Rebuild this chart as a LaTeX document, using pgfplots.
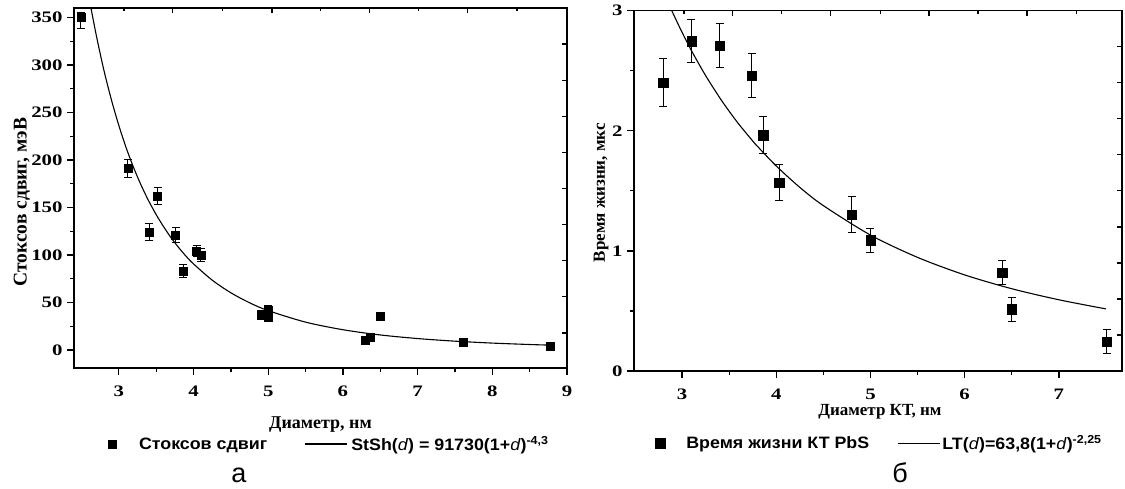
\documentclass[border=0pt]{standalone}
\usepackage{fontspec}
\setmainfont{Liberation Serif}
\setsansfont{Liberation Sans}
\newfontfamily\tickfont{Liberation Serif}[FakeStretch=1.3]
\newfontfamily\legfont{Liberation Sans}[FakeStretch=1.08]
\usepackage{pgfplots}
\pgfplotsset{compat=1.18}

\pgfplotsset{
  panel/.style={
    scale only axis, anchor=north west,
    tick align=outside, xtick pos=left, ytick pos=left,
    major tick length=7pt, minor tick length=4pt,
    minor x tick num=1, minor y tick num=1,
    axis line style={line width=1.5pt},
    every tick/.style={black, line width=1.3pt},
    /pgf/number format/assume math mode=true,
    tick label style={font=\tickfont\bfseries\fontsize{16}{16}\selectfont},
    xticklabel style={yshift=-7pt},
    yticklabel style={xshift=-1pt},
    clip mode=individual,
    legend style={draw=none, fill=none, inner sep=0pt, outer sep=0pt,
      anchor=west, legend columns=2, nodes={inner sep=0pt},
      font=\legfont\bfseries\fontsize{16.5}{16.5}\selectfont},
  },
  mirror/.style={
    scale only axis, anchor=north west,
    axis line style={draw=none},
    tick align=inside, xtick pos=right, ytick pos=right,
    major tick length=5.5pt, minor tick length=3pt,
    every tick/.style={black, line width=1.3pt},
    xticklabels={}, yticklabels={},
  },
  pts/.style={only marks, mark=square*, black,
    mark options={draw=black, fill=black},
    error bars/y dir=both, error bars/y explicit,
    error bars/error bar style={line width=1pt, black},
    error bars/error mark options={rotate=90, mark size=4pt, line width=1pt, black}},
  fit/.style={black, line width=1.1pt, smooth,
    legend image code/.code={\draw[black, line width=1.1pt] (0pt,0pt) -- (42pt,0pt);}},
}

\begin{document}
\begin{tikzpicture}[x=1pt,y=1pt]
\useasboundingbox (0,0) rectangle (1125,-489);

% ---------- panel a ----------
\begin{axis}[panel, at={(74pt,-8pt)}, width=493pt, height=360pt,
  xmin=2.4, xmax=9, ymin=-19, ymax=360,
  xtick={3,4,5,6,7,8,9}, ytick={0,50,100,150,200,250,300,350},
  xlabel={\bfseries\fontsize{18}{18}\selectfont Диаметр, нм},
  ylabel={\bfseries\fontsize{19.5}{19.5}\selectfont Стоксов сдвиг, мэВ},
  every axis x label/.style={at={(axis description cs:0.5,-0.158)}, anchor=center},
  every axis y label/.style={at={(axis description cs:-0.1055,0.461)}, anchor=center, rotate=90},
  legend style={at={(axis description cs:0.0700,-0.2111)}},
  /tikz/column 1/.style={column sep=22.5pt},
  /tikz/column 2/.style={column sep=37pt},
  /tikz/column 3/.style={column sep=4pt},
]
\addplot[mark size=4pt, pts] table[x=x, y=y, y error plus=ep, y error minus=em] {
x y ep em
2.49 350 5 12
3.12 191 9.5 9.5
3.41 124 9 9
3.52 162 9 9
3.76 121 8 8
3.86 83 7 7
4.04 104 6 6
4.10 100 7 7
4.91 37 5 5
5.00 42 5 5
5.00 35 5 5
6.30 10 2 2
6.37 13 2 2
6.50 36 2 2
7.61 8 1 1
8.77 4 1 1
};
\addlegendentry{Стоксов сдвиг}
\addplot[fit] coordinates {
(2.62,363) (2.7,330.6) (2.8,294.6) (2.9,263.6) (3.0,236.4) (3.1,212.5)
(3.2,191.6) (3.3,173.2) (3.4,156.9) (3.5,142.5) (3.6,129.7) (3.7,118.1)
(3.8,107.9) (3.9,98.7) (4.0,90.6) (4.25,73.5) (4.5,60.2) (4.75,49.7)
(5.0,41.4) (5.5,29.3) (6.0,21.3) (6.5,15.8) (7.0,12.0) (7.5,9.25)
(8.0,7.23) (8.5,5.73) (8.78,5.06)
};
\addlegendentry{StSh(\fontseries{m}\itshape d\/\upshape\bfseries) = 91730(1+\fontseries{m}\itshape d\/\upshape\bfseries)\textsuperscript{-4,3}}
\end{axis}
\begin{axis}[mirror, at={(74pt,-8pt)}, width=493pt, height=360pt,
  xmin=2.4, xmax=9, ymin=-19, ymax=360,
  xtick={3.72,5.05,6.36,7.67}, minor xtick={3.07,4.39,5.70,7.01,8.33},
  ytick={18,56,94,132,170,208,246,284,322},
]
\end{axis}

% ---------- panel b ----------
\begin{axis}[panel, at={(634pt,-10.7pt)}, width=488pt, height=360.3pt,
  xmin=2.49, xmax=7.67, ymin=0, ymax=3,
  xtick={3,4,5,6,7}, ytick={0,1,2,3},
  xlabel={\bfseries\fontsize{17}{17}\selectfont Диаметр КТ, нм},
  ylabel={\bfseries\fontsize{17}{17}\selectfont Время жизни, мкс},
  every axis x label/.style={at={(axis description cs:0.504,-0.112)}, anchor=center},
  every axis y label/.style={at={(axis description cs:-0.0676,0.4946)}, anchor=center, rotate=90},
  legend style={at={(axis description cs:0.0440,-0.2007)}},
  /tikz/column 1/.style={column sep=21.5pt},
  /tikz/column 2/.style={column sep=28pt},
  /tikz/column 3/.style={column sep=2pt},
]
\addplot[mark size=4.7pt, pts] table[x=x, y=y, y error=e] {
x y e
2.80 2.40 0.20
3.10 2.745 0.18
3.40 2.71 0.18
3.74 2.46 0.18
3.86 1.965 0.15
4.03 1.57 0.15
4.80 1.30 0.15
5.00 1.09 0.10
6.40 0.82 0.10
6.50 0.515 0.10
7.51 0.245 0.10
};
\addlegendentry{Время жизни КТ PbS}
\addplot[fit] coordinates {
(2.85,3.07) (2.9,2.985) (3.0,2.82) (3.1,2.667) (3.25,2.46) (3.4,2.275)
(3.5,2.163) (3.6,2.058) (3.75,1.915) (3.8,1.871) (4.0,1.707) (4.25,1.529)
(4.5,1.377) (5.0,1.132) (5.5,0.946) (6.0,0.800) (6.5,0.685) (7.0,0.593)
(7.5,0.517)
};
\addlegendentry{LT(\fontseries{m}\itshape d\/\upshape\bfseries)=63,8(1+\fontseries{m}\itshape d\/\upshape\bfseries)\textsuperscript{-2,25}}
\end{axis}
\begin{axis}[mirror, at={(634pt,-10.7pt)}, width=488pt, height=360.3pt,
  xmin=2.49, xmax=7.67, ymin=0, ymax=3,
  xtick={3.535,4.575,5.622,6.662}, minor xtick={3.02,4.055,5.106,6.142,7.187},
  ytick={0.3,0.6,0.9,1.2,1.5,1.8,2.1,2.4,2.7},
]
\end{axis}

\node[font=\sffamily\fontsize{27}{27}\selectfont] at (239,-475) {а};
\node[font=\sffamily\fontsize{27}{27}\selectfont] at (900,-473) {б};
\end{tikzpicture}
\end{document}
